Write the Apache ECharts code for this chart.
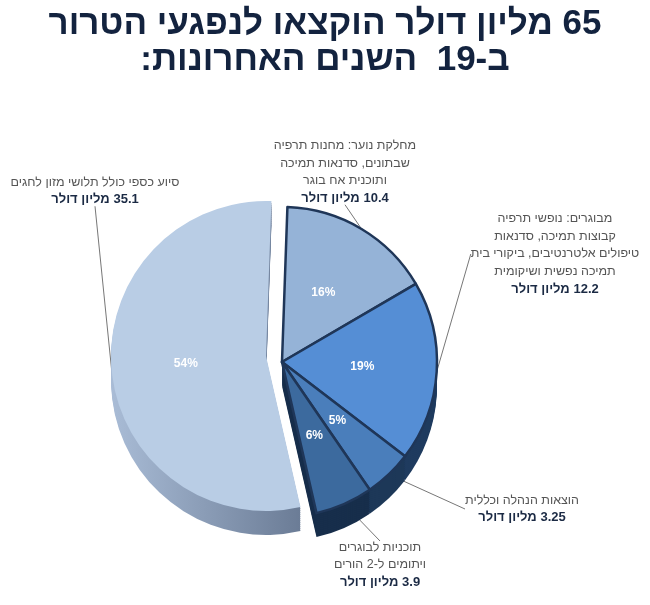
<!DOCTYPE html>
<html>
<head>
<meta charset="utf-8">
<script src="https://cdn.jsdelivr.net/npm/echarts@6/dist/echarts.min.js"></script>
<style>
html, body { margin: 0; background: #fff; }
#main { width: 650px; height: 605px; }
</style>
</head>
<body>
<div id="main" dir="rtl"></div>
<script>
// נתונים
var titleLines = ['65 מליון דולר הוקצאו לנפגעי הטרור', 'ב-19  השנים האחרונות:'];
var names = ['מחלקת נוער', 'מבוגרים', 'הוצאות הנהלה', 'תוכניות לבוגרים', 'סיוע כספי'];
var descs = [
	'מחלקת נוער: מחנות תרפיה\nשבתונים, סדנאות תמיכה\nותוכנית אח בוגר',
	'מבוגרים: נופשי תרפיה\nקבוצות תמיכה, סדנאות\nטיפולים אלטרנטיבים, ביקורי בית\nתמיכה נפשית ושיקומית',
	'הוצאות הנהלה וכללית',
	'תוכניות לבוגרים\nויתומים ל-2 הורים',
	'סיוע כספי כולל תלושי מזון לחגים'
];
var values = [10.4, 12.2, 3.25, 3.9, 35.1];
var amounts = ['10.4 מליון דולר', '12.2 מליון דולר', '3.25 מליון דולר', '3.9 מליון דולר', '35.1 מליון דולר'];

// צבעים ומיקומים
var topColors = ['#95b3d7', '#558ed5', '#4a7ebb', '#3c6a9e', '#b9cde5'];
var sideColors = ['#44556e', '#1f3b5f', '#1d3858', '#172e4b',
	new echarts.graphic.LinearGradient(0, 0, 1, 0, [{ offset: 0, color: '#a9bcd6' }, { offset: 1, color: '#6b7c96' }])];
var labelPos = [[345, 172], [555, 254], [522, 509], [380, 565], [95, 191]];
var center = [282, 362], radius = 155, depth = 24;
var bigShift = [-16, -6];   // הפרוסה הגדולה מוזזת שמאלה

var fontFam = '"Liberation Sans", "DejaVu Sans", sans-serif';

// part: 'main' = ארבע הפרוסות הימניות, 'big' = 54%
function pieData(colors, part, border, withLabel) {
	return values.map(function(v, i) {
		var visible = part === 'big' ? i === 4 : i !== 4;
		return {
			value: v,
			name: names[i],
			itemStyle: {
				color: visible ? colors[i] : 'transparent',
				borderColor: border && visible && i !== 4 ? '#1f3658' : 'transparent',
				borderWidth: border && visible && i !== 4 ? 2.5 : 0
			},
			label: { show: withLabel && visible },
			labelLine: { show: withLabel && visible }
		};
	});
}

function centerOf(part, dy) {
	var dx = part === 'big' ? bigShift[0] : 0;
	var sy = part === 'big' ? bigShift[1] : 0;
	return [center[0] + dx, center[1] + sy + dy];
}

var series = [];
// עובי העוגה
for (var k = depth; k > 0; k -= 2) {
	['big', 'main'].forEach(function(part) {
		series.push({
			type: 'pie',
			silent: true,
			animation: false,
			radius: radius,
			center: centerOf(part, k),
			startAngle: 88,
			label: { show: false },
			labelLine: { show: false },
			data: pieData(sideColors, part, false, false)
		});
	});
}
// פני העוגה עם תוויות חיצוניות
['big', 'main'].forEach(function(part) {
	series.push({
		type: 'pie',
		animation: false,
		radius: radius,
		center: centerOf(part, 0),
		startAngle: 88,
		avoidLabelOverlap: false,
		data: pieData(topColors, part, true, true),
		label: {
			position: 'outside',
			formatter: function(p) {
				var lines = descs[p.dataIndex].split('\n').map(function(s) { return '{t|' + s + '}'; });
				lines.push('{b|' + amounts[p.dataIndex] + '}');
				return lines.join('\n');
			},
			rich: {
				t: { fontSize: 12.5, color: '#555', lineHeight: 17.5, fontFamily: fontFam, align: 'center' },
				b: { fontSize: 13, color: '#1b2a44', fontWeight: 'bold', lineHeight: 17.5, fontFamily: fontFam, align: 'center' }
			}
		},
		labelLine: { length: 10, length2: 0, lineStyle: { color: '#777', width: 1 } },
		labelLayout: function(p) {
			var pos = labelPos[p.dataIndex];
			return { x: pos[0], y: pos[1], align: 'center', verticalAlign: 'middle' };
		}
	});
});
// אחוזים
['big', 'main'].forEach(function(part) {
	series.push({
		type: 'pie',
		silent: true,
		animation: false,
		radius: radius,
		center: centerOf(part, 0),
		startAngle: 88,
		percentPrecision: 0,
		data: pieData(['transparent', 'transparent', 'transparent', 'transparent', 'transparent'], part, false, true),
		label: {
			position: 'inside',
			formatter: '{d}%',
			color: '#fff',
			fontWeight: 'bold',
			fontSize: 12,
			fontFamily: fontFam
		},
		labelLine: { show: false }
	});
});

var myChart = echarts.init(document.getElementById('main'));
var option = {
	backgroundColor: '#fff',
	title: {
		text: titleLines.join('\n'),
		left: 'center',
		top: 1,
		textStyle: {
			fontSize: 35,
			fontWeight: 'bold',
			color: '#13233f',
			lineHeight: 36,
			fontFamily: fontFam
		}
	},
	series: series
};
myChart.setOption(option);
</script>
</body>
</html>
